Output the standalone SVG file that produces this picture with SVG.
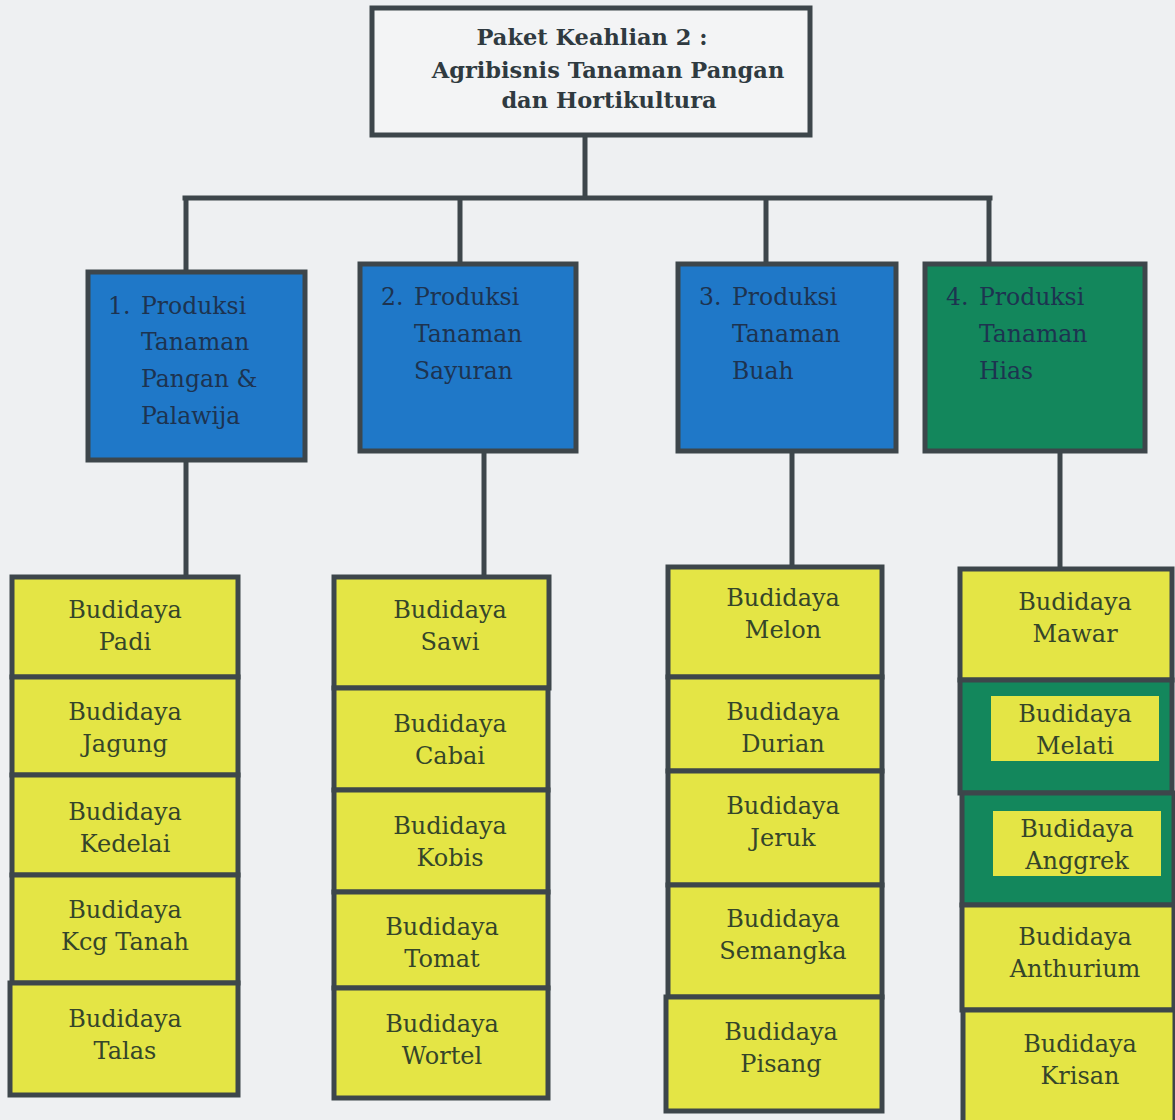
<svg xmlns="http://www.w3.org/2000/svg" width="1175" height="1120" viewBox="0 0 1175 1120">
<style>
.bx{stroke:#3d464b;stroke-width:5}
.blue{fill:#1f78c8}
.green{fill:#13875c}
.yel{fill:#e4e545}
.white{fill:#f3f4f5}
.t{font-family:"DejaVu Serif","Liberation Serif",serif;font-size:24px;fill:#35452a;text-anchor:middle}
.h{font-family:"DejaVu Serif","Liberation Serif",serif;font-size:23.5px;fill:#1d3350}
.title{font-family:"DejaVu Serif","Liberation Serif",serif;font-size:22.5px;font-weight:bold;fill:#2f3a40;text-anchor:middle}
.ln{stroke:#3d464b;stroke-width:5;fill:none}
</style>
<rect width="1175" height="1120" fill="#eef0f2"/>
<g id="connectors">
<path class="ln" d="M585 135V198"/>
<path class="ln" d="M185 198H990" stroke-linecap="square"/>
<path class="ln" d="M186 198V270M460 198V262M766 198V262M989 198V262"/>
<path class="ln" d="M186 462V575M484 453V575M792 453V565M1060 453V567"/>
</g>
<g id="root">
<rect class="bx white" x="372" y="8" width="438" height="127"/>
<text class="title" x="592" y="45">Paket Keahlian 2 :</text>
<text class="title" x="608" y="78">Agribisnis Tanaman Pangan</text>
<text class="title" x="609" y="108">dan Hortikultura</text>
</g>
<g id="prod1">
<rect class="bx blue" x="88" y="272" width="217" height="188"/>
<text class="h" x="108" y="314">1.</text><text class="h" x="141" y="314">Produksi</text>
<text class="h" x="141" y="350">Tanaman</text>
<text class="h" x="141" y="387">Pangan &amp;</text>
<text class="h" x="141" y="424">Palawija</text>
</g>
<g id="prod2">
<rect class="bx blue" x="360" y="264" width="216" height="187"/>
<text class="h" x="381" y="305">2.</text><text class="h" x="414" y="305">Produksi</text>
<text class="h" x="414" y="342">Tanaman</text>
<text class="h" x="414" y="379">Sayuran</text>
</g>
<g id="prod3">
<rect class="bx blue" x="678" y="264" width="218" height="187"/>
<text class="h" x="699" y="305">3.</text><text class="h" x="732" y="305">Produksi</text>
<text class="h" x="732" y="342">Tanaman</text>
<text class="h" x="732" y="379">Buah</text>
</g>
<g id="prod4">
<rect class="bx green" x="925" y="264" width="220" height="187"/>
<text class="h" x="946" y="305">4.</text><text class="h" x="979" y="305">Produksi</text>
<text class="h" x="979" y="342">Tanaman</text>
<text class="h" x="979" y="379">Hias</text>
</g>
<g id="padi"><rect class="bx yel" x="12" y="577" width="226" height="100"/><text class="t" x="125" y="618">Budidaya</text><text class="t" x="125" y="650">Padi</text></g>
<g id="jagung"><rect class="bx yel" x="12" y="677" width="226" height="98"/><text class="t" x="125" y="720">Budidaya</text><text class="t" x="125" y="752">Jagung</text></g>
<g id="kedelai"><rect class="bx yel" x="12" y="775" width="226" height="100"/><text class="t" x="125" y="820">Budidaya</text><text class="t" x="125" y="852">Kedelai</text></g>
<g id="kcgtanah"><rect class="bx yel" x="12" y="875" width="226" height="108"/><text class="t" x="125" y="918">Budidaya</text><text class="t" x="125" y="950">Kcg Tanah</text></g>
<g id="talas"><rect class="bx yel" x="10" y="983" width="228" height="112"/><text class="t" x="125" y="1027">Budidaya</text><text class="t" x="125" y="1059">Talas</text></g>
<g id="sawi"><rect class="bx yel" x="334" y="577" width="215" height="111"/><text class="t" x="450" y="618">Budidaya</text><text class="t" x="450" y="650">Sawi</text></g>
<g id="cabai"><rect class="bx yel" x="334" y="688" width="214" height="102"/><text class="t" x="450" y="732">Budidaya</text><text class="t" x="450" y="764">Cabai</text></g>
<g id="kobis"><rect class="bx yel" x="334" y="790" width="214" height="102"/><text class="t" x="450" y="834">Budidaya</text><text class="t" x="450" y="866">Kobis</text></g>
<g id="tomat"><rect class="bx yel" x="334" y="892" width="214" height="96"/><text class="t" x="442" y="935">Budidaya</text><text class="t" x="442" y="967">Tomat</text></g>
<g id="wortel"><rect class="bx yel" x="334" y="988" width="214" height="110"/><text class="t" x="442" y="1032">Budidaya</text><text class="t" x="442" y="1064">Wortel</text></g>
<g id="melon"><rect class="bx yel" x="668" y="567" width="214" height="110"/><text class="t" x="783" y="606">Budidaya</text><text class="t" x="783" y="638">Melon</text></g>
<g id="durian"><rect class="bx yel" x="668" y="677" width="214" height="94"/><text class="t" x="783" y="720">Budidaya</text><text class="t" x="783" y="752">Durian</text></g>
<g id="jeruk"><rect class="bx yel" x="668" y="771" width="214" height="114"/><text class="t" x="783" y="814">Budidaya</text><text class="t" x="783" y="846">Jeruk</text></g>
<g id="semangka"><rect class="bx yel" x="668" y="885" width="214" height="112"/><text class="t" x="783" y="927">Budidaya</text><text class="t" x="783" y="959">Semangka</text></g>
<g id="pisang"><rect class="bx yel" x="666" y="997" width="216" height="114"/><text class="t" x="781" y="1040">Budidaya</text><text class="t" x="781" y="1072">Pisang</text></g>
<g id="mawar"><rect class="bx yel" x="960" y="569" width="212" height="111"/><text class="t" x="1075" y="610">Budidaya</text><text class="t" x="1075" y="642">Mawar</text></g>
<g id="melati"><rect class="bx green" x="960" y="680" width="212" height="113"/><rect class="yel" x="991" y="696" width="168" height="65"/><text class="t" x="1075" y="722">Budidaya</text><text class="t" x="1075" y="754">Melati</text></g>
<g id="anggrek"><rect class="bx green" x="962" y="793" width="212" height="112"/><rect class="yel" x="993" y="811" width="168" height="65"/><text class="t" x="1077" y="837">Budidaya</text><text class="t" x="1077" y="869">Anggrek</text></g>
<g id="anthurium"><rect class="bx yel" x="962" y="905" width="212" height="105"/><text class="t" x="1075" y="945">Budidaya</text><text class="t" x="1075" y="977">Anthurium</text></g>
<g id="krisan"><rect class="bx yel" x="963" y="1010" width="212" height="115"/><text class="t" x="1080" y="1052">Budidaya</text><text class="t" x="1080" y="1084">Krisan</text></g>
</svg>
